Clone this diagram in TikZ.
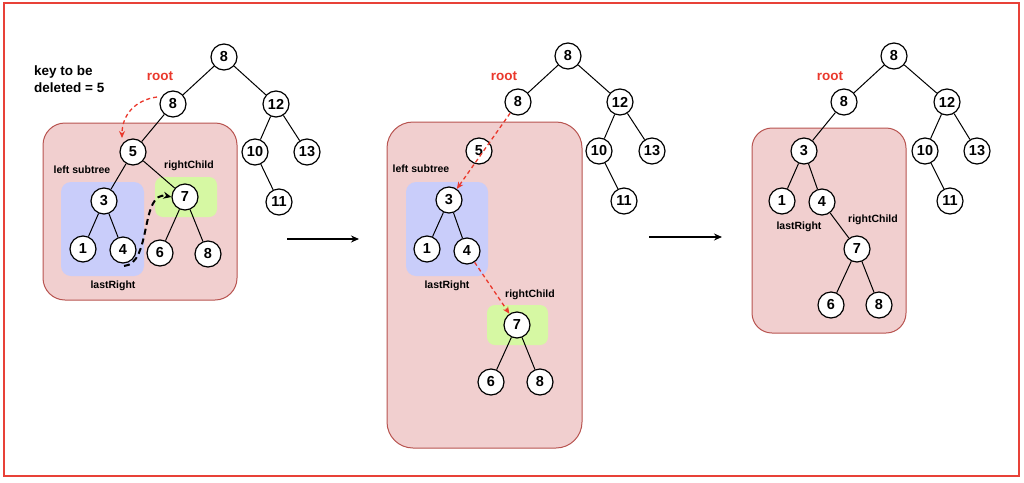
\documentclass[tikz,border=0pt]{standalone}
\usepackage{fontspec}
\setmainfont{Liberation Sans}
\usetikzlibrary{arrows.meta}
\definecolor{frameRed}{RGB}{232,65,56}
\definecolor{pinkFill}{RGB}{241,207,207}
\definecolor{pinkLine}{RGB}{184,84,80}
\definecolor{blueFill}{RGB}{201,205,250}
\definecolor{greenFill}{RGB}{214,248,163}
\definecolor{rootRed}{RGB}{234,56,44}
\tikzset{
  nd/.style={circle, draw=black, line width=1.2pt, fill=white, minimum size=26pt, inner sep=0pt, font=\fontsize{14.5}{14.5}\selectfont\bfseries},
  edge/.style={line width=1pt, black},
  pinkbox/.style={fill=pinkFill, draw=pinkLine, line width=1pt},
  bluebox/.style={fill=blueFill, draw=none},
  greenbox/.style={fill=greenFill, draw=none},
  lbl/.style={font=\fontsize{10.5}{10.5}\selectfont\bfseries, inner sep=0pt},
  rootlbl/.style={font=\fontsize{13.5}{13.5}\selectfont\bfseries, text=rootRed, inner sep=0pt},
  reddash/.style={draw=rootRed, line width=1.3pt, dash pattern=on 4pt off 3pt, -{Stealth[length=7pt,width=6pt]}},
  blackdash/.style={draw=black, line width=2pt, dash pattern=on 6pt off 4pt, -{Stealth[length=8pt,width=7pt]}},
  steparrow/.style={line width=1.3pt, -{Stealth[length=8pt,width=7pt]}}
}
\begin{document}
\begin{tikzpicture}[x=1pt,y=-1pt]
\useasboundingbox (0,0) rectangle (1024,482);
\draw[frameRed, line width=2.5pt] (4,3) rectangle (1019,476);

% ---------- Panel 1 ----------
\path[pinkbox, rounded corners=22pt] (43,123) rectangle (237,300);
\path[bluebox, rounded corners=10pt] (61,182) rectangle (144,276);
\path[greenbox, rounded corners=8pt] (155,177) rectangle (217,217);

\node[nd] (a8t) at (224,57) {8};
\node[nd] (a8s) at (173,104) {8};
\node[nd] (a12) at (276,104) {12};
\node[nd] (a5) at (133,152) {5};
\node[nd] (a10) at (255,152) {10};
\node[nd] (a13) at (307,152) {13};
\node[nd] (a3) at (104,201) {3};
\node[nd] (a7) at (185,197) {7};
\node[nd] (a11) at (279,202) {11};
\node[nd] (a1) at (83,249) {1};
\node[nd] (a4) at (123,250) {4};
\node[nd] (a6) at (160,253) {6};
\node[nd] (a8b) at (208,254) {8};
\foreach \u/\v in {a8t/a8s, a8t/a12, a8s/a5, a12/a10, a12/a13, a10/a11, a5/a3, a5/a7, a3/a1, a3/a4, a7/a6, a7/a8b}
  \draw[edge] (\u) -- (\v);

\node[font=\fontsize{13.5}{16.5}\selectfont\bfseries, align=left, anchor=west, inner sep=0pt] (keytxt) at (34,79) {key to be\\deleted = 5};
\node[rootlbl] (aroot) at (160,76) {root};
\node[lbl] (aleft) at (82,170) {left subtree};
\node[lbl] (aright) at (189,166) {rightChild};
\node[lbl] (alast) at (113,286) {lastRight};

\coordinate (ar1s) at (157,97);
\draw[reddash] (ar1s) .. controls (135,100) and (122,115) .. (122,138);
\coordinate (ab1s) at (124,266);
\draw[blackdash] (ab1s) .. controls (152,264) and (140,190) .. (a7.west);

% arrows between panels
\coordinate (s1a) at (287,239);
\coordinate (s1b) at (359,239);
\draw[steparrow] (s1a) -- (s1b);
\coordinate (s2a) at (649,237);
\coordinate (s2b) at (722,237);
\draw[steparrow] (s2a) -- (s2b);

% ---------- Panel 2 ----------
\path[pinkbox, rounded corners=26pt] (387,122) rectangle (582,448);
\path[bluebox, rounded corners=10pt] (406,182) rectangle (488,276);
\path[greenbox, rounded corners=8pt] (487,305) rectangle (548,345);

\node[nd] (b8t) at (568,56) {8};
\node[nd] (b8s) at (518,102) {8};
\node[nd] (b12) at (620,102) {12};
\node[nd] (b5) at (479,151) {5};
\node[nd] (b10) at (599,151) {10};
\node[nd] (b13) at (652,151) {13};
\node[nd] (b11) at (624,201) {11};
\node[nd] (b3) at (449,200) {3};
\node[nd] (b1) at (427,249) {1};
\node[nd] (b4) at (467,251) {4};
\node[nd] (b7) at (517,325) {7};
\node[nd] (b6) at (491,382) {6};
\node[nd] (b8b) at (540,382) {8};
\foreach \u/\v in {b8t/b8s, b8t/b12, b12/b10, b12/b13, b10/b11, b3/b1, b3/b4, b7/b6, b7/b8b}
  \draw[edge] (\u) -- (\v);

\node[rootlbl] (broot) at (504,76) {root};
\node[lbl] (bleft) at (421,169) {left subtree};
\node[lbl] (blast) at (447,286) {lastRight};
\node[lbl] (bright) at (530,295) {rightChild};

\draw[reddash] (b8s) -- (b3);
\draw[reddash] (b4) -- (b7);

% ---------- Panel 3 ----------
\path[pinkbox, rounded corners=20pt] (752,128) rectangle (906,333);

\node[nd] (c8t) at (894,56) {8};
\node[nd] (c8s) at (844,102) {8};
\node[nd] (c12) at (947,102) {12};
\node[nd] (c3) at (804,151) {3};
\node[nd] (c10) at (925,151) {10};
\node[nd] (c13) at (977,151) {13};
\node[nd] (c1) at (782,201) {1};
\node[nd] (c4) at (822,202) {4};
\node[nd] (c11) at (950,201) {11};
\node[nd] (c7) at (857,249) {7};
\node[nd] (c6) at (831,305) {6};
\node[nd] (c8b) at (879,305) {8};
\foreach \u/\v in {c8t/c8s, c8t/c12, c8s/c3, c12/c10, c12/c13, c10/c11, c3/c1, c3/c4, c4/c7, c7/c6, c7/c8b}
  \draw[edge] (\u) -- (\v);

\node[rootlbl] (croot) at (830,76) {root};
\node[lbl] (clast) at (799,227) {lastRight};
\node[lbl] (cright) at (873,220) {rightChild};
\end{tikzpicture}
\end{document}
